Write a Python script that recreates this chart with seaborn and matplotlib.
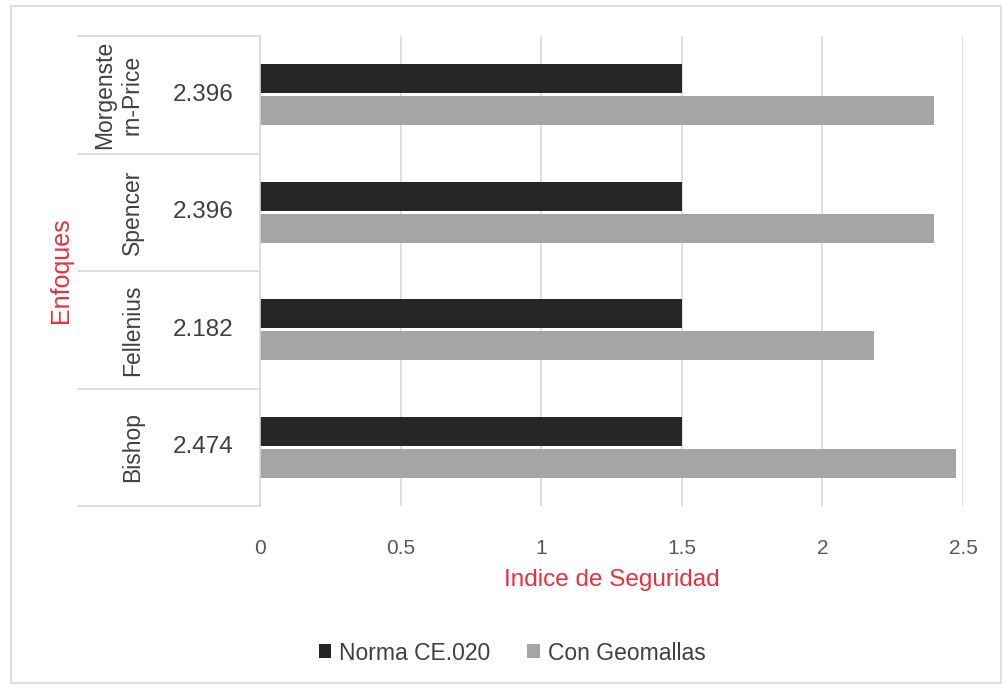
import textwrap
import matplotlib
matplotlib.use("Agg")
import matplotlib.pyplot as plt
import matplotlib.transforms as mtransforms
from matplotlib.patches import Patch, Rectangle
import pandas as pd
import seaborn as sns

# Safety index per method, with the CE.020 reference value
enfoques = ["Morgenstern-Price", "Spencer", "Fellenius", "Bishop"]
series = ["Norma CE.020", "Con Geomallas"]
norma_ce020 = [1.5, 1.5, 1.5, 1.5]
con_geomallas = [2.396, 2.396, 2.182, 2.474]
x_ticks = [0, 0.5, 1, 1.5, 2, 2.5]
x_tick_labels = ["0", "0.5", "1", "1.5", "2", "2.5"]

colors = ["#262626", "#A5A5A5"]
grid_color = "#D9D9D9"
title_red = "#E8303C"
text_dark = "#404040"

df = pd.DataFrame({
    "Enfoque": enfoques * 2,
    "Serie": [series[0]] * len(enfoques) + [series[1]] * len(enfoques),
    "Indice": norma_ce020 + con_geomallas,
})

sns.set_theme(style="white")
plt.rcParams["font.family"] = ["Liberation Sans", "DejaVu Sans"]
narrow = ["Liberation Sans Narrow", "Liberation Sans", "DejaVu Sans"]

W, H = 1003, 687
fig = plt.figure(figsize=(W / 100, H / 100), dpi=100)
fig.patch.set_facecolor("white")
left_px, right_px, top_px, bottom_px = 260, 963, 36, 506
ax = fig.add_axes([left_px / W, 1 - bottom_px / H,
                   (right_px - left_px) / W, (bottom_px - top_px) / H])

sns.barplot(data=df, y="Enfoque", x="Indice", hue="Serie", order=enfoques,
            hue_order=series, palette=colors, saturation=1, orient="h",
            width=0.544, gap=0.095, linewidth=0, legend=False, ax=ax)

n = len(enfoques)
ax.set_ylim(n - 0.5, -0.5)
ax.set_xlim(0, 2.5)
ax.set_xticks(x_ticks)
ax.set_xticklabels(x_tick_labels, family=narrow, fontsize=15, color="#595959")
ax.tick_params(axis="x", length=0, pad=24)
ax.set_yticks(range(n))
ax.set_yticklabels([])
ax.tick_params(axis="y", length=0)
ax.set_xlabel("")
ax.set_ylabel("")
ax.xaxis.grid(True, color=grid_color, linewidth=1.2)
ax.yaxis.grid(False)
ax.set_axisbelow(True)
for side in ["top", "right", "bottom"]:
    ax.spines[side].set_visible(False)
ax.spines["left"].set_color(grid_color)
ax.spines["left"].set_linewidth(1.2)

# Two-level category labels: method name (rotated) and its reinforced index
span = right_px - left_px
blend = mtransforms.blended_transform_factory(ax.transAxes, ax.transData)
outer_x = (144 - left_px) / span
inner_x = (203 - left_px) / span
line_x0 = (78 - left_px) / span
for i, (name, val) in enumerate(zip(enfoques, con_geomallas)):
    ax.text(outer_x, i, textwrap.fill(name, 9), transform=blend, rotation=90,
            ha="right", va="center", fontsize=16.5, color=text_dark,
            linespacing=1.25, multialignment="center")
    ax.text(inner_x, i, f"{val:.3f}", transform=blend, ha="center",
            va="center", fontsize=17.5, color=text_dark)
for b in [i - 0.5 for i in range(n + 1)]:
    ax.plot([line_x0, 0], [b, b], transform=blend, clip_on=False,
            color=grid_color, linewidth=1.2)

fig.text(612 / W, 1 - 580 / H, "Indice de Seguridad", ha="center",
         va="center", fontsize=17.5, color=title_red, family=narrow)
fig.text(61 / W, 1 - 270 / H, "Enfoques", ha="center", va="center",
         rotation=90, fontsize=18, color=title_red, family=narrow)

handles = [Patch(facecolor=c, edgecolor="none") for c in colors]
fig.legend(handles, series, loc="center", bbox_to_anchor=(512 / W, 1 - 653 / H),
           ncol=2, frameon=False, fontsize=16.5, handlelength=0.55,
           handleheight=0.55, handletextpad=0.35, columnspacing=1.6,
           labelcolor=text_dark)

fig.patches.append(Rectangle((11 / W, 4 / H), (1001 - 11) / W, (681 - 4) / H,
                             transform=fig.transFigure, fill=False,
                             edgecolor=grid_color, linewidth=1.2))

fig.savefig("out.png", dpi=100, facecolor="white")
